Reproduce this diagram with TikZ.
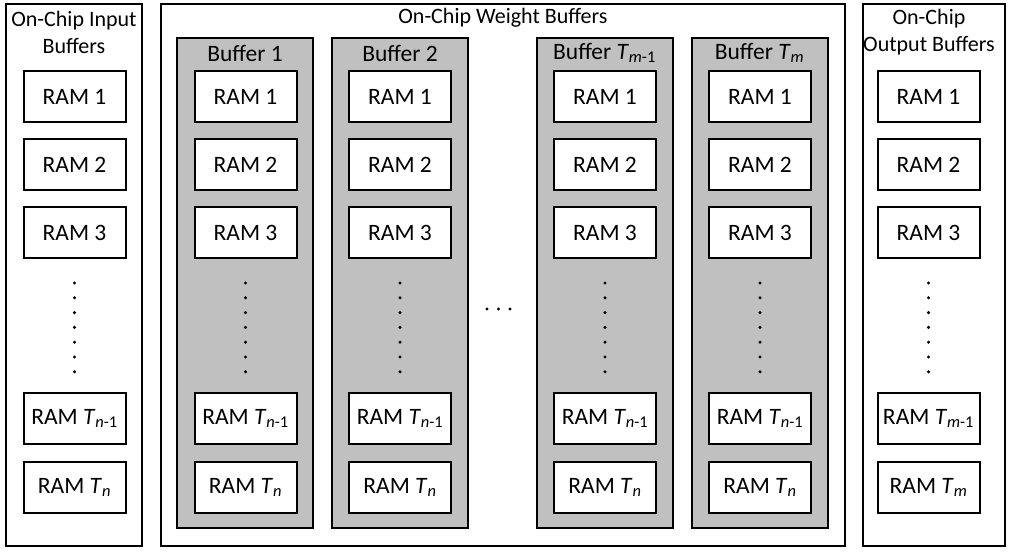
\documentclass[tikz,border=0pt]{standalone}
\usepackage{fontspec}
\setmainfont{Carlito}
\definecolor{bufgray}{RGB}{192,192,192}
\newcommand{\Tsub}[1]{\textit{T}\textsubscript{#1}}
\begin{document}
\begin{tikzpicture}[x=1pt,y=-1pt,
  every node/.style={inner sep=0pt,outer sep=0pt},
  txt/.style={font=\fontsize{22}{27}\selectfont,align=center},
  buftxt/.style={font=\fontsize{23.5}{27}\selectfont,align=center},
  outerbox/.style={draw,line width=2pt,minimum height=542pt},
  bufbox/.style={draw,line width=2pt,fill=bufgray,minimum width=136pt,minimum height=490pt},
  rambox/.style={draw,line width=2pt,fill=white,minimum width=102pt,minimum height=51pt,font=\fontsize{23.5}{27}\selectfont},
  dotmark/.style={fill=black,circle,minimum size=3.4pt}]
\useasboundingbox (0,0) rectangle (1012,553);
% outer boxes
\node[outerbox,minimum width=136pt] (inbox) at (74,275) {};
\node[outerbox,minimum width=684pt] (wbox) at (503,275) {};
\node[outerbox,minimum width=142pt] (outbox) at (934,275) {};
% titles
\node[txt] (intitle) at (74,32) {On-Chip Input\\Buffers};
\node[txt] (wtitle) at (503,18) {On-Chip Weight Buffers};
\node[txt] (outtitle) at (929,32) {On-Chip\\Output Buffers};
% weight buffers
\foreach \n/\cx/\lab in {b1/245/{Buffer 1},b2/400/{Buffer 2},b3/604.5/{Buffer \Tsub{\textit{m}-1}},b4/759.5/{Buffer \Tsub{\textit{m}}}}{
  \node[bufbox] (\n) at (\cx,283) {};
  \node[buftxt] (\n-title) at (\cx,53) {\lab};
}
% RAM columns
\foreach \n/\cx/\va/\vb in {in/74.5/\textit{n}-1/\textit{n},b1/245.5/\textit{n}-1/\textit{n},b2/400/\textit{n}-1/\textit{n},b3/605/\textit{n}-1/\textit{n},b4/760/\textit{n}-1/\textit{n},out/928.5/\textit{m}-1/\textit{m}}{
  \node[rambox] (\n-r1) at (\cx,97) {RAM 1};
  \node[rambox] (\n-r2) at (\cx,165) {RAM 2};
  \node[rambox] (\n-r3) at (\cx,233) {RAM 3};
  \node[rambox] (\n-r4) at (\cx,418.5) {RAM \Tsub{\va}};
  \node[rambox] (\n-r5) at (\cx,487.5) {RAM \Tsub{\vb}};
  \foreach \k in {0,...,6}{
    \node[dotmark] (\n-d\k) at (\cx,283+14.8*\k) {};
  }
}
% horizontal ellipsis between buffers
\foreach \k/\hx in {0/487,1/498.5,2/510}{
  \node[dotmark] (h\k) at (\hx,309) {};
}
\end{tikzpicture}
\end{document}
